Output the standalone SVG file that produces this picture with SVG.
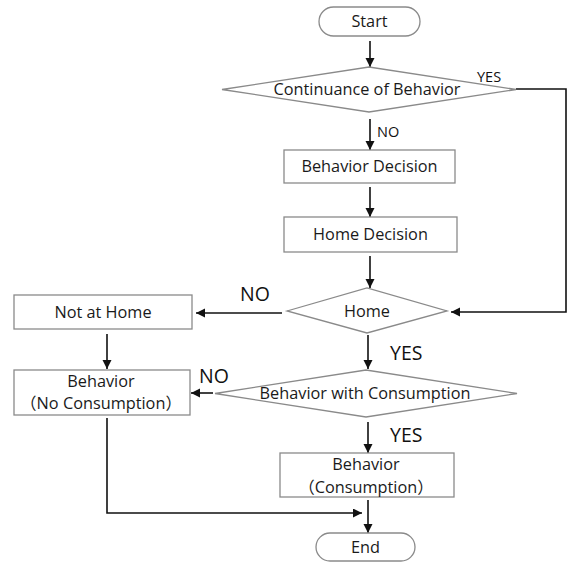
<svg xmlns="http://www.w3.org/2000/svg" width="570" height="562" viewBox="0 0 570 562">
<style>
.shape{fill:#fff;stroke:#8a8a8a;stroke-width:1.3}
.t{font-family:"Open Sans","Noto Sans CJK JP",sans-serif;font-size:16.3px;fill:#1a1a1a;text-anchor:middle}
.lbl{font-family:"Open Sans","Noto Sans CJK JP",sans-serif;fill:#111}
.s{font-size:14.5px}
.b{font-size:19.5px}
.c{fill:none;stroke:#111;stroke-width:1.6}
</style>
<defs>
<marker id="ah" markerUnits="userSpaceOnUse" markerWidth="10" markerHeight="10" refX="9" refY="4.5" orient="auto">
<path d="M0,0 L9,4.5 L0,9 z" fill="#111"/>
</marker>
</defs>
<rect width="570" height="562" fill="#fff"/>
<g id="connectors">
<path class="c" d="M370,41 V67" marker-end="url(#ah)"/>
<path class="c" d="M516,89 H566 V312 H451" marker-end="url(#ah)"/>
<path class="c" d="M370,119 V150" marker-end="url(#ah)"/>
<path class="c" d="M370,187 V217" marker-end="url(#ah)"/>
<path class="c" d="M370,256 V288" marker-end="url(#ah)"/>
<path class="c" d="M282,313 H196" marker-end="url(#ah)"/>
<path class="c" d="M107,334 V369" marker-end="url(#ah)"/>
<path class="c" d="M368,335 V369" marker-end="url(#ah)"/>
<path class="c" d="M213,393 H191" marker-end="url(#ah)"/>
<path class="c" d="M368,422 V453" marker-end="url(#ah)"/>
<path class="c" d="M368,500 V533" marker-end="url(#ah)"/>
<path class="c" d="M107,418 V513 H362" marker-end="url(#ah)"/>
<text class="lbl s" x="477" y="82">YES</text>
<text class="lbl s" x="377" y="137">NO</text>
<text class="lbl b" x="240" y="301">NO</text>
<text class="lbl b" x="390" y="360">YES</text>
<text class="lbl b" x="199" y="383">NO</text>
<text class="lbl b" x="390" y="442">YES</text>
</g>
<g id="start">
<rect class="shape" x="319" y="7" width="101" height="29" rx="14.5"/>
<text class="t" x="369.5" y="27">Start</text>
</g>
<g id="continuance">
<polygon class="shape" points="222,89.5 369,67 516,89.5 369,112"/>
<text class="t" x="367" y="95">Continuance of Behavior</text>
</g>
<g id="behavior-decision">
<rect class="shape" x="284" y="150" width="171" height="33"/>
<text class="t" x="369.5" y="172">Behavior Decision</text>
</g>
<g id="home-decision">
<rect class="shape" x="284" y="217" width="173" height="35"/>
<text class="t" x="370.5" y="240">Home Decision</text>
</g>
<g id="home">
<polygon class="shape" points="287,311 367,288 447,311 367,333"/>
<text class="t" x="367" y="317">Home</text>
</g>
<g id="not-at-home">
<rect class="shape" x="14" y="295" width="178" height="34"/>
<text class="t" x="103" y="318">Not at Home</text>
</g>
<g id="behavior-with-consumption">
<polygon class="shape" points="215,393.5 366,370 517,393.5 366,417"/>
<text class="t" x="365" y="399">Behavior with Consumption</text>
</g>
<g id="behavior-no-consumption">
<rect class="shape" x="14" y="370" width="176" height="45"/>
<text class="t" x="101" y="387">Behavior</text>
<text class="t" x="101" y="409">（No Consumption）</text>
</g>
<g id="behavior-consumption">
<rect class="shape" x="280" y="453" width="174" height="44"/>
<text class="t" x="366" y="470">Behavior</text>
<text class="t" x="366" y="493">（Consumption）</text>
</g>
<g id="end">
<rect class="shape" x="316" y="533" width="99" height="28" rx="14"/>
<text class="t" x="365.5" y="553">End</text>
</g>
</svg>
